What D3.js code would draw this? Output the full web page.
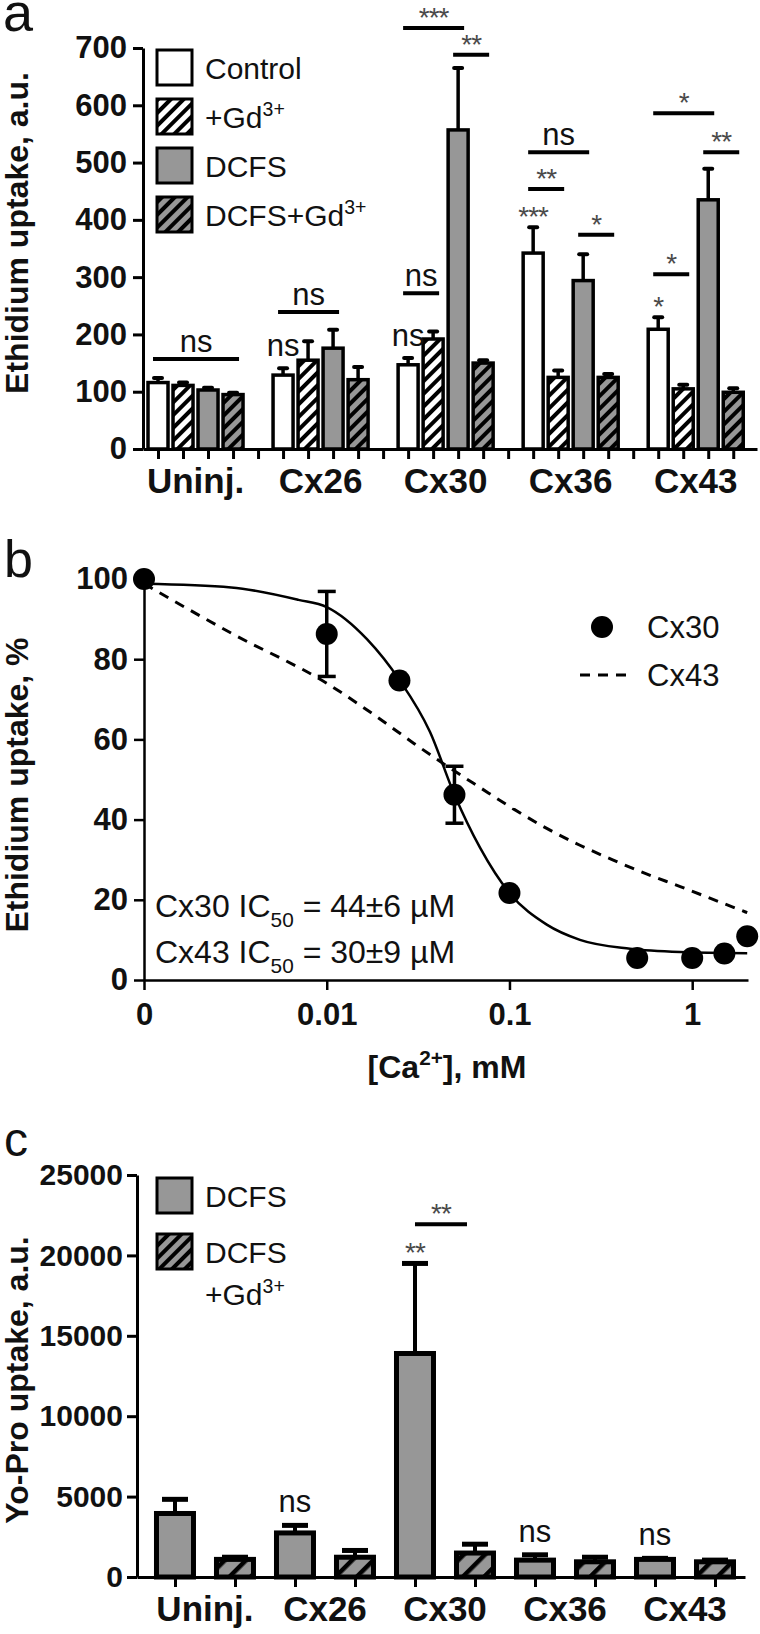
<!DOCTYPE html>
<html>
<head>
<meta charset="utf-8">
<script src="https://cdnjs.cloudflare.com/ajax/libs/d3/7.8.5/d3.min.js"></script>
<style>
  body { margin: 0; background: #fff; }
  svg { display: block; font-family: "Liberation Sans", Arial, sans-serif; }
</style>
</head>
<body>
<div id="chart"></div>
<script>
// ---- panel a: ethidium uptake, 4 conditions per group
const groupsA = ["Uninj.", "Cx26", "Cx30", "Cx36", "Cx43"];
const seriesA = ["Control", "+Gd", "DCFS", "DCFS+Gd"];
const controlA = [116, 129, 147, 342, 209];
const controlErrA = [8, 12, 12, 45, 21];
const gdA = [111, 155, 192, 125, 105];
const gdErrA = [5, 33, 13, 12, 7];
const dcfsA = [103, 176, 557, 294, 435];
const dcfsErrA = [4, 32, 108, 46, 54];
const dcfsGdA = [95, 121, 150, 125, 99];
const dcfsGdErrA = [3, 22, 5, 6, 7];
const ticksA = [0, 100, 200, 300, 400, 500, 600, 700];
// comparison bars: group, first and last condition, level (a.u.), label
const sigLinesA = [
  { group: 0, from: 0, to: 3, level: 157, label: "ns" },
  { group: 1, from: 0, to: 2, level: 239, label: "ns" },
  { group: 2, from: 0, to: 1, level: 272, label: "ns" },
  { group: 2, from: 0, to: 2, level: 735, label: "***" },
  { group: 2, from: 2, to: 3, level: 688, label: "**" },
  { group: 3, from: 0, to: 2, level: 518, label: "ns" },
  { group: 3, from: 0, to: 1, level: 454, label: "**" },
  { group: 3, from: 2, to: 3, level: 374, label: "*" },
  { group: 4, from: 0, to: 2, level: 586, label: "*" },
  { group: 4, from: 2, to: 3, level: 518, label: "**" },
  { group: 4, from: 0, to: 1, level: 305, label: "*" }
];
const barMarksA = [
  { group: 1, series: 0, label: "ns" },
  { group: 2, series: 0, label: "ns" },
  { group: 3, series: 0, label: "***" },
  { group: 4, series: 0, label: "*" }
];

// ---- panel b: Ca2+ dose response
const caCx30 = [0.001, 0.01, 0.025, 0.05, 0.1, 0.5, 1, 1.5, 2];
const uptakeCx30 = [100, 86.3, 74.7, 46.2, 21.7, 5.5, 5.5, 6.6, 10.9];
const uptakeCx30Err = [0, 10.6, 0, 7.1, 0, 0, 0, 0, 0];
const fitCx30Ca = [0.001, 0.003, 0.007, 0.01, 0.0166, 0.025, 0.0367, 0.05, 0.069, 0.1, 0.16, 0.243, 0.457, 0.86, 2.0];
const fitCx30Val = [98.8, 97.9, 94.8, 93, 85, 74.8, 61.9, 46.2, 33, 21.7, 13.8, 10, 7.8, 7, 6.7];
const fitCx43Ca = [0.001, 0.003, 0.01, 0.019, 0.03, 0.045, 0.069, 0.104, 0.16, 0.243, 0.37, 0.566, 0.86, 1.3, 2.0];
const fitCx43Val = [98.8, 86.5, 74, 65.5, 59, 53.5, 48, 42.8, 37.8, 33.6, 29.9, 26.4, 23.3, 20.1, 16.8];
const ticksBx = [0.001, 0.01, 0.1, 1];
const tickLabelsBx = ["0", "0.01", "0.1", "1"];
const ticksBy = [0, 20, 40, 60, 80, 100];

// ---- panel c: Yo-Pro uptake
const groupsC = ["Uninj.", "Cx26", "Cx30", "Cx36", "Cx43"];
const dcfsC = [3950, 2740, 13900, 1050, 1095];
const dcfsErrC = [880, 470, 5600, 330, 65];
const dcfsGdC = [1095, 1230, 1490, 945, 945];
const dcfsGdErrC = [135, 420, 550, 285, 105];
const ticksC = [0, 5000, 10000, 15000, 20000, 25000];
const sigLinesC = [{ from: 4, to: 5, level: 21930, label: "**" }];
const barMarksC = [
  { bar: 2, label: "ns" },
  { bar: 4, label: "**" },
  { bar: 6, label: "ns" },
  { bar: 8, label: "ns" }
];

const GRAY = "#979797";
const STAR = "#4a4a4a";

const svg = d3.select("#chart").append("svg")
  .attr("width", 760)
  .attr("height", 1634);

const defs = svg.append("defs");
function hatch(id, bg, period, stripe) {
  const p = defs.append("pattern")
    .attr("id", id)
    .attr("patternUnits", "userSpaceOnUse")
    .attr("width", period)
    .attr("height", period)
    .attr("patternTransform", "rotate(45)");
  p.append("rect").attr("width", period).attr("height", period).attr("fill", bg);
  p.append("rect").attr("width", stripe).attr("height", period).attr("fill", "#000");
}
hatch("hatchW", "#fff", 9, 4);
hatch("hatchG", GRAY, 9, 4);
hatch("hatchGc", GRAY, 15, 4.5);

// text with sup / sub parts
function rich(sel, parts, fs) {
  let shift = 0;
  parts.forEach(([t, k]) => {
    const target = k === "sup" ? -0.4 : k === "sub" ? 0.3 : 0;
    const ts = sel.append("tspan").text(t).attr("dy", ((target - shift) * fs).toFixed(1));
    if (k) ts.attr("font-size", fs * 0.65);
    shift = target;
  });
  return sel;
}

function styleAxis(g, fs, sw) {
  g.attr("font-family", null)
    .attr("font-size", fs)
    .attr("font-weight", "bold");
  g.selectAll("path, line").attr("stroke", "#000").attr("stroke-width", sw);
  g.selectAll("text").attr("fill", "#111");
}

function yTitle(text, x, y) {
  svg.append("text")
    .attr("transform", `translate(${x},${y}) rotate(-90)`)
    .attr("text-anchor", "middle")
    .attr("font-size", 32)
    .attr("font-weight", "bold")
    .attr("fill", "#111")
    .text(text);
}

function panelLetter(t, x, y, fs) {
  svg.append("text").attr("x", x).attr("y", y)
    .attr("font-size", fs).attr("fill", "#111").text(t);
}

function starOrNs(g, label, x, yRef) {
  // yRef = the top of whatever the label sits on
  const isStar = label.includes("*");
  g.append("text")
    .attr("x", x)
    .attr("y", isStar ? yRef - 1 : yRef - 7)
    .attr("text-anchor", "middle")
    .attr("font-size", isStar ? 28 : 31)
    .attr("fill", isStar ? STAR : "#111")
    .attr("letter-spacing", isStar ? -1 : 0)
    .text(label);
}

// =================== panel a ===================
const xA = d3.scaleLinear().domain([-0.6, 23.95]).range([143, 757]);
const yA = d3.scaleLinear().domain([0, 700]).range([449, 48]);
const slot = (g, s) => g * 5 + s;

const valuesA = [controlA, gdA, dcfsA, dcfsGdA];
const errsA = [controlErrA, gdErrA, dcfsErrA, dcfsGdErrA];
const fillsA = ["#fff", "url(#hatchW)", GRAY, "url(#hatchG)"];
const barsA = groupsA.flatMap((g, gi) => seriesA.map((s, si) => ({
  gi, si, value: valuesA[si][gi], err: errsA[si][gi]
})));

const gA = svg.append("g");
const barW = 20;

gA.selectAll(".errA").data(barsA).join("g").attr("class", "errA")
  .each(function (d) {
    const x = xA(slot(d.gi, d.si));
    const sel = d3.select(this);
    sel.append("line").attr("x1", x).attr("x2", x)
      .attr("y1", yA(d.value)).attr("y2", yA(d.value + d.err))
      .attr("stroke", "#000").attr("stroke-width", 3.5);
    sel.append("line").attr("x1", x - 4).attr("x2", x + 4)
      .attr("y1", yA(d.value + d.err)).attr("y2", yA(d.value + d.err))
      .attr("stroke", "#000").attr("stroke-width", 4).attr("stroke-linecap", "round");
  });

gA.selectAll(".barA").data(barsA).join("rect").attr("class", "barA")
  .attr("x", d => xA(slot(d.gi, d.si)) - barW / 2)
  .attr("width", barW)
  .attr("y", d => yA(d.value))
  .attr("height", d => yA(0) - yA(d.value))
  .attr("fill", d => fillsA[d.si])
  .attr("stroke", "#000")
  .attr("stroke-width", 3.5);

gA.append("g")
  .attr("transform", `translate(0,${yA(0)})`)
  .call(d3.axisBottom(xA).tickValues(d3.range(24)).tickFormat("").tickSize(10).tickSizeOuter(0))
  .call(g => styleAxis(g, 31, 3));

gA.append("g")
  .attr("transform", `translate(${xA(-0.6)},0)`)
  .call(d3.axisLeft(yA).tickValues(ticksA).tickSize(10).tickPadding(6).tickSizeOuter(0))
  .call(g => styleAxis(g, 31, 3));

gA.selectAll(".grpA").data(groupsA).join("text").attr("class", "grpA")
  .attr("x", (d, i) => xA(slot(i, 1.5)))
  .attr("y", 493)
  .attr("text-anchor", "middle")
  .attr("font-size", 35)
  .attr("font-weight", "bold")
  .attr("fill", "#111")
  .text(d => d);

sigLinesA.forEach(d => {
  const x1 = xA(slot(d.group, d.from)) - 5;
  const x2 = xA(slot(d.group, d.to)) + 6;
  const y = yA(d.level);
  gA.append("line").attr("x1", x1).attr("x2", x2).attr("y1", y).attr("y2", y)
    .attr("stroke", "#000").attr("stroke-width", 4);
  starOrNs(gA, d.label, (x1 + x2) / 2, y);
});

barMarksA.forEach(d => {
  const v = valuesA[d.series][d.group] + errsA[d.series][d.group];
  const top = yA(v);
  starOrNs(gA, d.label, xA(slot(d.group, d.series)), d.label.includes("*") ? top : top - 5);
});

// legend a
const legA = gA.append("g");
const legendLabelsA = [
  [["Control", null]],
  [["+Gd", null], ["3+", "sup"]],
  [["DCFS", null]],
  [["DCFS+Gd", null], ["3+", "sup"]]
];
legendLabelsA.forEach((parts, i) => {
  const top = 50 + i * 49;
  legA.append("rect").attr("x", 157).attr("y", top).attr("width", 35).attr("height", 35)
    .attr("fill", fillsA[i]).attr("stroke", "#000").attr("stroke-width", 3);
  const t = legA.append("text").attr("x", 205).attr("y", top + 29)
    .attr("font-size", 30).attr("fill", "#111");
  rich(t, parts, 30);
});

yTitle("Ethidium uptake, a.u.", 28, 233);
panelLetter("a", 3, 31, 54);

// =================== panel b ===================
const xB = d3.scaleLog().domain([0.001, 2.02]).range([144, 748]);
const yB = d3.scaleLinear().domain([0, 100]).range([980, 579]);
const gB = svg.append("g");

gB.append("g")
  .attr("transform", `translate(0,${yB(0)})`)
  .call(d3.axisBottom(xB).tickValues(ticksBx).tickFormat((d, i) => tickLabelsBx[i])
    .tickSize(10).tickPadding(13).tickSizeOuter(0))
  .call(g => styleAxis(g, 31, 2.5));

gB.append("g")
  .attr("transform", `translate(${xB(0.001)},0)`)
  .call(d3.axisLeft(yB).tickValues(ticksBy).tickSize(10).tickPadding(6).tickSizeOuter(0))
  .call(g => styleAxis(g, 31, 2.5));

const lineB = d3.line()
  .x(d => xB(d[0]))
  .y(d => yB(d[1]))
  .curve(d3.curveMonotoneX);

gB.append("path")
  .attr("d", lineB(d3.zip(fitCx43Ca, fitCx43Val)))
  .attr("fill", "none").attr("stroke", "#000").attr("stroke-width", 3)
  .attr("stroke-dasharray", "10,8");

gB.append("path")
  .attr("d", lineB(d3.zip(fitCx30Ca, fitCx30Val)))
  .attr("fill", "none").attr("stroke", "#000").attr("stroke-width", 2.5);

const ptsB = caCx30.map((c, i) => ({ c, v: uptakeCx30[i], e: uptakeCx30Err[i] }));
ptsB.filter(d => d.e > 0).forEach(d => {
  const x = xB(d.c);
  gB.append("line").attr("x1", x).attr("x2", x)
    .attr("y1", yB(d.v - d.e)).attr("y2", yB(d.v + d.e))
    .attr("stroke", "#000").attr("stroke-width", 3.5);
  [d.v - d.e, d.v + d.e].forEach(v => {
    gB.append("line").attr("x1", x - 9).attr("x2", x + 9)
      .attr("y1", yB(v)).attr("y2", yB(v))
      .attr("stroke", "#000").attr("stroke-width", 3.5);
  });
});

gB.selectAll(".ptB").data(ptsB).join("circle").attr("class", "ptB")
  .attr("cx", d => xB(d.c))
  .attr("cy", d => yB(d.v))
  .attr("r", 11)
  .attr("fill", "#000");

// legend b
gB.append("circle").attr("cx", 602).attr("cy", 627).attr("r", 11).attr("fill", "#000");
gB.append("text").attr("x", 647).attr("y", 638).attr("font-size", 31).attr("fill", "#111").text("Cx30");
gB.append("line").attr("x1", 580).attr("x2", 626).attr("y1", 675).attr("y2", 675)
  .attr("stroke", "#000").attr("stroke-width", 3).attr("stroke-dasharray", "10,8");
gB.append("text").attr("x", 647).attr("y", 686).attr("font-size", 31).attr("fill", "#111").text("Cx43");

rich(gB.append("text").attr("x", 155).attr("y", 917).attr("font-size", 32).attr("fill", "#111"),
  [["Cx30 IC", null], ["50", "sub"], [" = 44\u00b16 \u00b5M", null]], 32);
rich(gB.append("text").attr("x", 155).attr("y", 963).attr("font-size", 32).attr("fill", "#111"),
  [["Cx43 IC", null], ["50", "sub"], [" = 30\u00b19 \u00b5M", null]], 32);

rich(gB.append("text").attr("x", 447).attr("y", 1078).attr("text-anchor", "middle")
  .attr("font-size", 32).attr("font-weight", "bold").attr("fill", "#111"),
  [["[Ca", null], ["2+", "sup"], ["], mM", null]], 32);

yTitle("Ethidium uptake, %", 28, 785);
panelLetter("b", 4, 577, 52);

// =================== panel c ===================
const xC = d3.scaleLinear().domain([-0.633, 9.5]).range([137, 745]);
const yC = d3.scaleLinear().domain([0, 25000]).range([1577, 1175]);
const gC = svg.append("g");

const barsC = groupsC.flatMap((g, gi) => [
  { bar: gi * 2, value: dcfsC[gi], err: dcfsErrC[gi], fill: GRAY },
  { bar: gi * 2 + 1, value: dcfsGdC[gi], err: dcfsGdErrC[gi], fill: "url(#hatchGc)" }
]);
const barWC = 37;

gC.selectAll(".errC").data(barsC).join("g").attr("class", "errC")
  .each(function (d) {
    const x = xC(d.bar);
    const sel = d3.select(this);
    sel.append("line").attr("x1", x).attr("x2", x)
      .attr("y1", yC(d.value)).attr("y2", yC(d.value + d.err))
      .attr("stroke", "#000").attr("stroke-width", 4);
    sel.append("line").attr("x1", x - 13).attr("x2", x + 13)
      .attr("y1", yC(d.value + d.err)).attr("y2", yC(d.value + d.err))
      .attr("stroke", "#000").attr("stroke-width", 5);
  });

gC.selectAll(".barC").data(barsC).join("rect").attr("class", "barC")
  .attr("x", d => xC(d.bar) - barWC / 2)
  .attr("width", barWC)
  .attr("y", d => yC(d.value))
  .attr("height", d => yC(0) - yC(d.value))
  .attr("fill", d => d.fill)
  .attr("stroke", "#000")
  .attr("stroke-width", 5);

gC.append("g")
  .attr("transform", `translate(0,${yC(0)})`)
  .call(d3.axisBottom(xC).tickValues(d3.range(10)).tickFormat("").tickSize(10).tickSizeOuter(0))
  .call(g => styleAxis(g, 30, 3));

gC.append("g")
  .attr("transform", `translate(${xC(-0.633)},0)`)
  .call(d3.axisLeft(yC).tickValues(ticksC).tickFormat(d3.format("d"))
    .tickSize(10).tickPadding(4).tickSizeOuter(0))
  .call(g => styleAxis(g, 30, 3));

gC.selectAll(".grpC").data(groupsC).join("text").attr("class", "grpC")
  .attr("x", (d, i) => xC(i * 2 + 0.5))
  .attr("y", 1621)
  .attr("text-anchor", "middle")
  .attr("font-size", 35)
  .attr("font-weight", "bold")
  .attr("fill", "#111")
  .text(d => d);

sigLinesC.forEach(d => {
  const x1 = xC(d.from);
  const x2 = xC(d.to) - 8;
  const y = yC(d.level);
  gC.append("line").attr("x1", x1).attr("x2", x2).attr("y1", y).attr("y2", y)
    .attr("stroke", "#000").attr("stroke-width", 4);
  starOrNs(gC, d.label, (x1 + x2) / 2, y);
});

barMarksC.forEach(d => {
  const b = barsC[d.bar];
  const top = yC(b.value + b.err);
  starOrNs(gC, d.label, xC(d.bar), d.label.includes("*") ? top : top - 6);
});

// legend c
gC.append("rect").attr("x", 157).attr("y", 1178).attr("width", 35).attr("height", 35)
  .attr("fill", GRAY).attr("stroke", "#000").attr("stroke-width", 3);
gC.append("text").attr("x", 205).attr("y", 1207).attr("font-size", 30).attr("fill", "#111").text("DCFS");
gC.append("rect").attr("x", 157).attr("y", 1234).attr("width", 35).attr("height", 35)
  .attr("fill", "url(#hatchG)").attr("stroke", "#000").attr("stroke-width", 3);
gC.append("text").attr("x", 205).attr("y", 1263).attr("font-size", 30).attr("fill", "#111").text("DCFS");
rich(gC.append("text").attr("x", 205).attr("y", 1305).attr("font-size", 30).attr("fill", "#111"),
  [["+Gd", null], ["3+", "sup"]], 30);

yTitle("Yo-Pro uptake, a.u.", 28, 1380);
panelLetter("c", 4, 1156, 48);
</script>
</body>
</html>
